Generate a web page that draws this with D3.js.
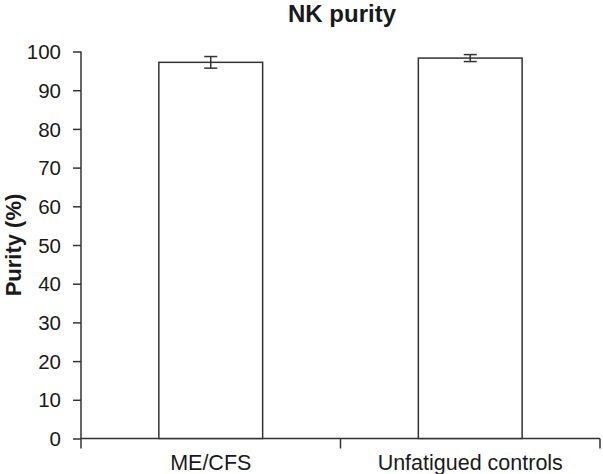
<!DOCTYPE html>
<html><head><meta charset="utf-8">
<script src="https://cdn.jsdelivr.net/npm/d3@7"></script>
<style>body{margin:0;background:#fff}svg{display:block}text{font-family:"Liberation Sans",Arial,sans-serif;fill:#1a1a1a}</style>
</head><body><svg id="c" width="603" height="474"></svg>
<script>
const categories = ["ME/CFS", "Unfatigued controls"];
const purity = [97.2, 98.3];
const errors = [1.5, 0.9];
const yTicks = [0,10,20,30,40,50,60,70,80,90,100];

const svg = d3.select("#c");
const x = d3.scaleBand().domain(categories).range([81, 600]).paddingInner(0.6).paddingOuter(0.3);
const y = d3.scaleLinear().domain([0, 100]).range([438.5, 51.5]);
const col = "#333";

// y axis
const ya = svg.append("g").attr("transform","translate(81,0)")
  .call(d3.axisLeft(y).tickValues(yTicks).tickSize(8).tickPadding(12));
ya.select(".domain").attr("stroke",col).attr("stroke-width",1.5).attr("d","M0,"+y(100)+"V"+y(0));
ya.selectAll(".tick line").attr("stroke",col).attr("stroke-width",1.5);
ya.selectAll("text").style("font-size","20.5px").attr("fill","#1a1a1a").attr("dy","0.35em");

// x axis with ticks at band boundaries
const xa = svg.append("g").attr("transform","translate(0,"+y(0)+")");
xa.append("path").attr("d","M81,0H600").attr("stroke",col).attr("stroke-width",1.5).attr("fill","none");
const bounds = [81, (81+600)/2, 600];
xa.selectAll("line.b").data(bounds).join("line").attr("class","b")
  .attr("x1",d=>d).attr("x2",d=>d).attr("y1",0).attr("y2",10).attr("stroke",col).attr("stroke-width",1.5);
xa.selectAll("text").data(categories).join("text")
  .attr("x",(d,i)=>(bounds[i]+bounds[i+1])/2).attr("y",31.5)
  .attr("text-anchor","middle").style("font-size","21.5px").text(d=>d);

// bars
svg.selectAll("rect.bar").data(categories).join("rect").attr("class","bar")
  .attr("x",d=>x(d)).attr("width",x.bandwidth())
  .attr("y",(d,i)=>y(purity[i])).attr("height",(d,i)=>y(0)-y(purity[i]))
  .attr("fill","#fff").attr("stroke",col).attr("stroke-width",1.5);

// error bars
const eb = svg.selectAll("g.err").data(categories).join("g").attr("class","err");
eb.append("line").attr("x1",d=>x(d)+x.bandwidth()/2).attr("x2",d=>x(d)+x.bandwidth()/2)
  .attr("y1",(d,i)=>y(purity[i]+errors[i])).attr("y2",(d,i)=>y(purity[i]-errors[i]))
  .attr("stroke",col).attr("stroke-width",1.5);
[1,-1].forEach(s=>{
  eb.append("line").attr("x1",d=>x(d)+x.bandwidth()/2-6.5).attr("x2",d=>x(d)+x.bandwidth()/2+6.5)
    .attr("y1",(d,i)=>y(purity[i]+s*errors[i])).attr("y2",(d,i)=>y(purity[i]+s*errors[i]))
    .attr("stroke",col).attr("stroke-width",1.5);
});

// title
svg.append("text").attr("x",342).attr("y",22).attr("text-anchor","middle")
  .style("font-size","24px").style("font-weight","bold").text("NK purity");
// y label
svg.append("text").attr("transform","translate(21,245) rotate(-90)").attr("text-anchor","middle")
  .style("font-size","22px").style("font-weight","bold").text("Purity (%)");
</script></body></html>
